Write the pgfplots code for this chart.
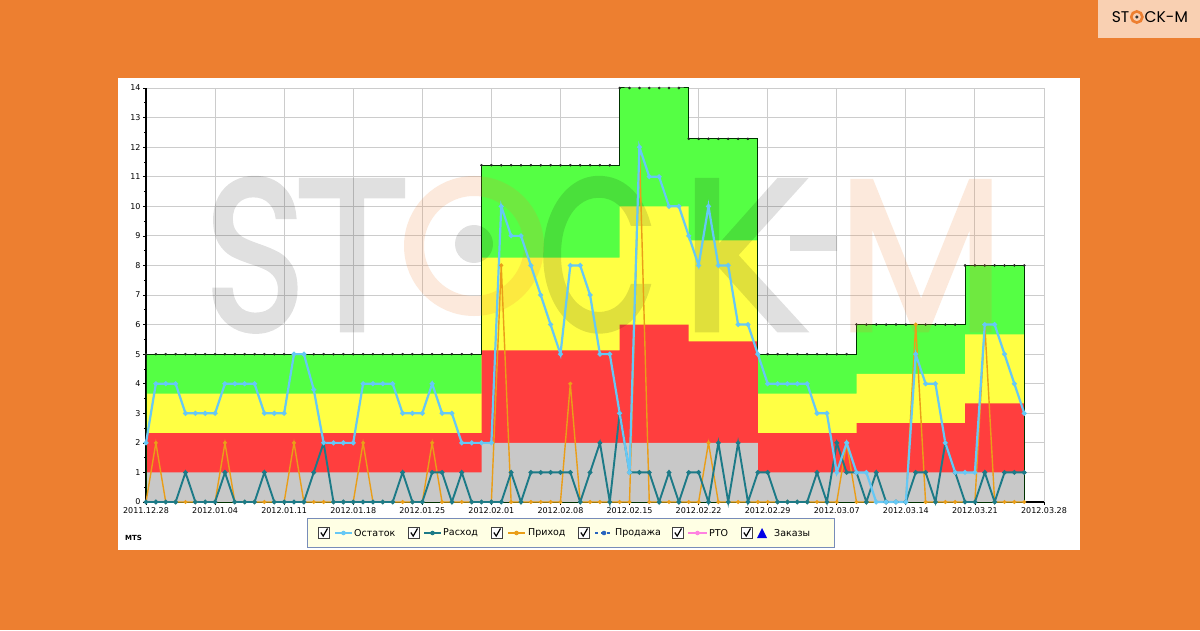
\documentclass[border=0pt]{standalone}
\usepackage{pgfplots}
\pgfplotsset{compat=1.18}
\usepackage{pgfplotstable}
\usepackage{graphicx}
\usepackage{fontspec}
\setmainfont{DejaVu Sans}
\newfontfamily\logofont{Poppins}
\newfontfamily\wmfont[FakeBold=2.2]{Poppins}
\newfontfamily\djv{DejaVu Sans}

\definecolor{bgorange}{RGB}{237,127,48}
\definecolor{logopeach}{RGB}{249,208,178}
\definecolor{cgreen}{RGB}{85,255,68}
\definecolor{cyellow}{RGB}{255,255,68}
\definecolor{cred}{RGB}{255,62,62}
\definecolor{cgray}{RGB}{200,200,200}
\definecolor{cost}{RGB}{102,200,245}
\definecolor{cras}{RGB}{28,122,135}
\definecolor{cpri}{RGB}{234,158,24}
\definecolor{cprod}{RGB}{40,100,190}
\definecolor{crto}{RGB}{255,130,225}
\definecolor{czak}{RGB}{0,0,230}
\definecolor{legbg}{RGB}{255,255,228}
\definecolor{legborder}{RGB}{120,140,185}
\definecolor{gridc}{RGB}{204,204,204}
\definecolor{wmorange}{RGB}{240,130,50}

\pgfplotstableread{
d ost ras pri top
0 2 0 0 5
1 4 0 2 5
2 4 0 0 5
3 4 0 0 5
4 3 1 0 5
5 3 0 0 5
6 3 0 0 5
7 3 0 0 5
8 4 1 2 5
9 4 0 0 5
10 4 0 0 5
11 4 0 0 5
12 3 1 0 5
13 3 0 0 5
14 3 0 0 5
15 5 0 2 5
16 5 0 0 5
17 3.8 1 0 5
18 2 2 0 5
19 2 0 0 5
20 2 0 0 5
21 2 0 0 5
22 4 0 2 5
23 4 0 0 5
24 4 0 0 5
25 4 0 0 5
26 3 1 0 5
27 3 0 0 5
28 3 0 0 5
29 4 1 2 5
30 3 1 0 5
31 3 0 0 5
32 2 1 0 5
33 2 0 0 5
34 2 0 0 11.39
35 2 0 0 11.39
36 10 0 8 11.39
37 9 1 0 11.39
38 9 0 0 11.39
39 8 1 0 11.39
40 7 1 0 11.39
41 6 1 0 11.39
42 5 1 0 11.39
43 8 1 4 11.39
44 8 0 0 11.39
45 7 1 0 11.39
46 5 2 0 11.39
47 5 0 0 11.39
48 3 3 0 14
49 1 1 0 14
50 12 1 12 14
51 11 1 0 14
52 11 0 0 14
53 10 1 0 14
54 10 0 0 14
55 9 1 0 12.28
56 8 1 0 12.28
57 10 0 2 12.28
58 8 2 0 12.28
59 8 0 0 12.28
60 6 2 0 12.28
61 6 0 0 12.28
62 5 1 0 5
63 4 1 0 5
64 4 0 0 5
65 4 0 0 5
66 4 0 0 5
67 4 0 0 5
68 3 1 0 5
69 3 0 0 5
70 1 2 0 5
71 2 1 2 5
72 1 1 0 6
73 1 0 0 6
74 0 1 0 6
75 0 0 0 6
76 0 0 0 6
77 0 0 0 6
78 5 1 6 6
79 4 1 0 6
80 4 0 0 6
81 2 2 0 6
82 1 1 0 6
83 1 0 0 8
84 1 0 0 8
85 6 1 6 8
86 6 0 0 8
87 5 1 0 8
88 4 1 0 8
89 3 1 0 8
}\data

\newcommand{\chk}[1]{%
  \fill[white] (#1-5.5,91.5) rectangle (#1+5.5,102.5);
  \draw[black!75, line width=0.9pt] (#1-5.5,91.5) rectangle (#1+5.5,102.5);
  \draw[black, line width=1.2pt] (#1-3.2,97.5) -- (#1-0.8,94) -- (#1+3.5,101.5);
}

\begin{document}
\begin{tikzpicture}[x=1pt,y=1pt]
\useasboundingbox (0,0) rectangle (1200,630);
\fill[bgorange] (0,0) rectangle (1200,630);
\fill[white] (118,80) rectangle (1080,552);
% logo box
\fill[logopeach] (1098,592) rectangle (1200,630);
\node[anchor=base east, inner sep=0, font=\logofont\fontsize{15.5}{15.5}\selectfont] at (1129.5,607.5) {ST};
\draw[bgorange, line width=2.6pt] (1136.8,613) circle (5.6);
\fill[black!80] (1136.8,613) circle (1.7);
\node[anchor=base west, inner sep=0, font=\logofont\fontsize{15.5}{15.5}\selectfont] at (1144.5,607.5) {CK-M};

% main axis with bands
\begin{axis}[at={(146pt,128pt)}, anchor=south west, scale only axis,
  width=898pt, height=414pt, xmin=0, xmax=91, ymin=0, ymax=14,
  axis lines*=left, axis line style={black, line width=1.1pt},
  xtick={0,7,...,91},
  xticklabels={2011.12.28,2012.01.04,2012.01.11,2012.01.18,2012.01.25,2012.02.01,2012.02.08,2012.02.15,2012.02.22,2012.02.29,2012.03.07,2012.03.14,2012.03.21,2012.03.28},
  ytick={0,1,...,14}, minor y tick num=1,
  grid=major, major grid style={gridc, line width=0.9pt},
  tick align=outside, major tick length=3pt, minor tick length=2pt,
  tick style={black, line width=0.7pt},
  /pgf/number format/assume math mode=true,
  ticklabel style={font=\djv\fontsize{8}{9}\selectfont},
  xticklabel style={yshift=1pt},
  yticklabel style={xshift=1pt},
]
\addplot[const plot, fill=cgreen, draw=none] coordinates {(0,5) (34,11.39) (48,14) (55,12.28) (62,5) (72,6) (83,8) (89,8)} \closedcycle;
\addplot[const plot, fill=cyellow, draw=none] coordinates {(0,3.667) (34,8.26) (48,10) (55,8.85) (62,3.667) (72,4.333) (83,5.667) (89,5.667)} \closedcycle;
\addplot[const plot, fill=cred, draw=none] coordinates {(0,2.333) (34,5.13) (48,6) (55,5.43) (62,2.333) (72,2.667) (83,3.333) (89,3.333)} \closedcycle;
\addplot[const plot, fill=cgray, draw=none] coordinates {(0,1) (34,2) (62,1) (89,1)} \closedcycle;
\addplot[const plot, draw=black!80!green, line width=1pt, fill=none] table[x=d,y=top] {\data} \closedcycle;
\addplot[only marks, mark=*, mark size=1.1pt, mark options={fill=black!85, draw=black!85}] table[x=d,y=top] {\data};
\end{axis}

% watermark
\begin{scope}[transparency group, opacity=0.12]
\node[anchor=base, inner sep=0, text=black, font=\wmfont\fontsize{215}{215}\selectfont] at (255,300) {\scalebox{0.8}[1]{S}};
\node[anchor=base, inner sep=0, text=black, font=\wmfont\fontsize{215}{215}\selectfont] at (352,300) {T};
\node[anchor=base, inner sep=0, text=black, font=\wmfont\fontsize{215}{215}\selectfont] at (598,300) {\scalebox{0.72}[1]{C}};
\node[anchor=base, inner sep=0, text=black, font=\wmfont\fontsize{215}{215}\selectfont] at (745,300) {K};
\fill[black] (790,379) rectangle (837,394);
\fill[black] (474,386) circle (19);
\end{scope}
\begin{scope}[transparency group, opacity=0.17]
\node[anchor=base, inner sep=0, text=wmorange, font=\wmfont\fontsize{215}{215}\selectfont] at (921,300) {\scalebox{0.9}[1]{M}};
\draw[wmorange, line width=20pt] (474,384) circle (60);
\end{scope}

% lines axis
\begin{axis}[at={(146pt,128pt)}, anchor=south west, scale only axis,
  width=898pt, height=414pt, xmin=0, xmax=91, ymin=0, ymax=14,
  hide axis, clip=false]
\addplot[cpri, line width=1.4pt, mark=*, mark size=1.2pt, mark options={fill=cpri, draw=cpri}] table[x=d,y=pri] {\data};
\addplot[cras, line width=1.9pt, mark=*, mark size=1.3pt, mark options={fill=cras, draw=cras}] table[x=d,y=ras] {\data};
\addplot[cost, line width=2.2pt, mark=*, mark size=1.2pt, mark options={fill=cost, draw=cost}] table[x=d,y=ost] {\data};
\end{axis}

% MTS
\node[anchor=base west, inner sep=0, font=\djv\bfseries\fontsize{7}{7}\selectfont] at (125,90) {MTS};

% legend
\draw[legborder, fill=legbg, line width=1pt] (307,83) rectangle (834,112);
\chk{324}
\draw[cost, line width=2pt] (335,97) -- (352,97); \fill[cost] (343.5,97) circle (2.3);
\node[anchor=west, inner sep=0, font=\djv\fontsize{9.5}{10}\selectfont] at (354,97) {Остаток};
\chk{414}
\draw[cras, line width=2pt] (424,97) -- (441,97); \fill[cras] (432.5,97) circle (2.3);
\node[anchor=west, inner sep=0, font=\djv\fontsize{9.5}{10}\selectfont] at (443,97) {Расход};
\chk{497}
\draw[cpri, line width=2pt] (508,97) -- (525,97); \fill[cpri] (516.5,97) circle (2.3);
\node[anchor=west, inner sep=0, font=\djv\fontsize{9.5}{10}\selectfont] at (528,97) {Приход};
\chk{584}
\draw[cprod, line width=1.6pt, dash pattern=on 3pt off 3pt] (595,97) -- (613,97); \fill[cprod] (604,97) circle (2.3);
\node[anchor=west, inner sep=0, font=\djv\fontsize{9.5}{10}\selectfont] at (615,97) {Продажа};
\chk{678}
\draw[crto, line width=2pt] (688,97) -- (707,97); \fill[crto] (697.5,97) circle (2.3);
\node[anchor=west, inner sep=0, font=\djv\fontsize{9.5}{10}\selectfont] at (709,97) {РТО};
\chk{747}
\fill[czak] (757,92) -- (767,92) -- (762,102) -- cycle;
\node[anchor=west, inner sep=0, font=\djv\fontsize{9.5}{10}\selectfont] at (774,97) {Заказы};
\end{tikzpicture}
\end{document}
